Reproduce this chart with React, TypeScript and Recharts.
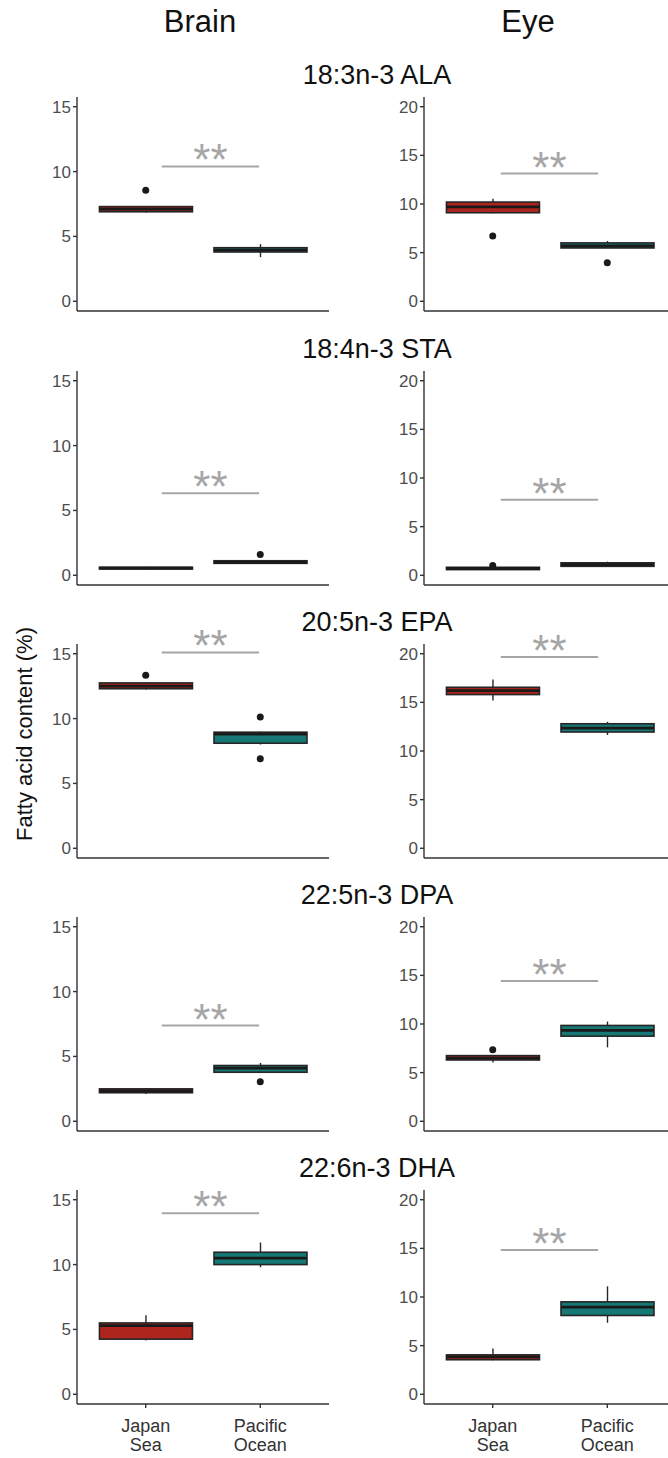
import { ComposedChart, Bar, Scatter, XAxis, YAxis, ReferenceLine } from 'recharts'

const acids = ['18:3n-3 ALA', '18:4n-3 STA', '20:5n-3 EPA', '22:5n-3 DPA', '22:6n-3 DHA']
const groupLines = [['Japan', 'Sea'], ['Pacific', 'Ocean']]
const brainTicks = [0, 5, 10, 15]
const eyeTicks = [0, 5, 10, 15, 20]

// [lower whisker, q1, median, q3, upper whisker] per acid
const brainJapan = [
  [6.85, 6.9, 7.1, 7.3, 7.35],
  [0.45, 0.48, 0.55, 0.62, 0.65],
  [12.25, 12.3, 12.5, 12.75, 12.8],
  [2.1, 2.2, 2.35, 2.5, 2.55],
  [4.15, 4.25, 5.3, 5.5, 6.1],
]
const brainPacific = [
  [3.4, 3.8, 3.95, 4.13, 4.4],
  [0.9, 0.92, 1.0, 1.12, 1.15],
  [8.0, 8.1, 8.8, 8.95, 9.0],
  [3.75, 3.78, 4.1, 4.3, 4.5],
  [9.8, 10.0, 10.5, 10.95, 11.7],
]
const eyeJapan = [
  [9.05, 9.1, 9.7, 10.2, 10.55],
  [0.55, 0.58, 0.7, 0.82, 0.85],
  [15.2, 15.8, 16.2, 16.55, 17.35],
  [6.05, 6.3, 6.5, 6.75, 6.8],
  [3.5, 3.55, 3.85, 4.05, 4.7],
]
const eyePacific = [
  [5.45, 5.48, 5.7, 6.0, 6.2],
  [0.9, 0.92, 1.1, 1.28, 1.4],
  [11.65, 11.95, 12.35, 12.8, 13.0],
  [7.6, 8.75, 9.35, 9.85, 10.25],
  [7.35, 8.1, 8.95, 9.5, 11.1],
]

// outliers: group (1 = Japan Sea, 2 = Pacific Ocean), value
const brainOutliers = [
  [{ x: 1, y: 8.56 }],
  [{ x: 2, y: 1.6 }],
  [{ x: 1, y: 13.35 }, { x: 2, y: 10.13 }, { x: 2, y: 6.9 }],
  [{ x: 2, y: 3.05 }],
  [],
]
const eyeOutliers = [
  [{ x: 1, y: 6.7 }, { x: 2, y: 3.95 }],
  [{ x: 1, y: 1.0 }],
  [],
  [{ x: 1, y: 7.35 }],
  [],
]

// height of the significance bar
const brainSig = [10.4, 6.33, 15.1, 7.38, 13.96]
const eyeSig = [13.13, 7.76, 19.66, 14.43, 14.83]

const FONT = '"Liberation Sans", Arial, Helvetica, sans-serif'
const JAPAN_FILL = '#ae251d'
const PACIFIC_FILL = '#157875'
const PLOT_H = 214
const TOP_PAD = 24
const ROW_STEP = 273.2
const FIRST_TOP = 97.3

function BoxShape(props: any) {
  const { x, y, width, height, payload } = props
  const [lo, q1, med, q3, hi] = payload.stats
  const top = Math.min(y, y + height)
  const bottom = Math.max(y, y + height)
  const px = (v: number) => top + ((hi - v) / (hi - lo)) * (bottom - top)
  const cx = x + width / 2
  return (
    <g>
      <line x1={cx} x2={cx} y1={px(hi)} y2={px(lo)} stroke="#262626" strokeWidth={1.4} />
      <rect
        x={x}
        y={px(q3)}
        width={width}
        height={Math.max(px(q1) - px(q3), 0.5)}
        fill={payload.fill}
        stroke="#262626"
        strokeWidth={1.6}
      />
      <line x1={x} x2={x + width} y1={px(med)} y2={px(med)} stroke="#1a1a1a" strokeWidth={2.8} />
    </g>
  )
}

function GroupTick(props: any) {
  const { x, y, payload } = props
  const lines = groupLines[payload.value - 1]
  if (!lines) return null
  return (
    <text x={x} y={y} textAnchor="middle" fill="#333" fontSize={18} fontFamily={FONT}>
      <tspan x={x} dy={22}>{lines[0]}</tspan>
      <tspan x={x} dy={18.5}>{lines[1]}</tspan>
    </text>
  )
}

function Stars(props: any) {
  const vb = props.viewBox
  if (!vb) return null
  return (
    <text x={vb.x + vb.width / 2} y={vb.y + 9} textAnchor="middle" fill="#a6a6a6" fontSize={44} fontFamily={FONT}>
      **
    </text>
  )
}

type PanelProps = {
  japan: number[]
  pacific: number[]
  outliers: { x: number; y: number }[]
  sig: number
  sigX: [number, number]
  ticks: number[]
  domain: [number, number]
  labels: boolean
}

function Panel({ japan, pacific, outliers, sig, sigX, ticks, domain, labels }: PanelProps) {
  const data = [
    { x: 1, range: [japan[0], japan[4]], stats: japan, fill: JAPAN_FILL },
    { x: 2, range: [pacific[0], pacific[4]], stats: pacific, fill: PACIFIC_FILL },
  ]
  const xh = labels ? 60 : 10
  return (
    <ComposedChart
      width={291}
      height={TOP_PAD + PLOT_H + xh}
      data={data}
      margin={{ top: TOP_PAD, right: 2, left: 0, bottom: 0 }}
    >
      <XAxis
        dataKey="x"
        type="number"
        domain={[0.4, 2.6]}
        ticks={[1, 2]}
        allowDataOverflow
        height={xh}
        tickSize={4}
        stroke="#333"
        strokeWidth={1.4}
        tick={labels ? <GroupTick /> : false}
      />
      <YAxis
        type="number"
        domain={domain}
        ticks={ticks}
        allowDataOverflow
        width={37}
        tickSize={4}
        tickMargin={2}
        stroke="#333"
        strokeWidth={1.4}
        tick={{ fill: '#4d4d4d', fontSize: 17, fontFamily: FONT }}
      />
      <Bar dataKey="range" barSize={93} shape={<BoxShape />} isAnimationActive={false} />
      <Scatter
        data={outliers}
        dataKey="y"
        isAnimationActive={false}
        shape={(p: any) => <circle cx={p.cx} cy={p.cy} r={3.5} fill="#1a1a1a" />}
      />
      <ReferenceLine
        segment={[{ x: sigX[0], y: sig }, { x: sigX[1], y: sig }]}
        stroke="#a6a6a6"
        strokeWidth={2}
        ifOverflow="visible"
        label={(p: any) => <Stars {...p} />}
      />
    </ComposedChart>
  )
}

export default function App() {
  return (
    <div
      style={{
        position: 'absolute',
        left: 0,
        top: 0,
        width: 668,
        height: 1458,
        overflow: 'hidden',
        background: '#fff',
        fontFamily: FONT,
      }}
    >
      <div style={{ position: 'absolute', left: 200, top: 22, transform: 'translate(-50%, -50%)', fontSize: 31, color: '#111' }}>
        Brain
      </div>
      <div style={{ position: 'absolute', left: 528, top: 22, transform: 'translate(-50%, -50%)', fontSize: 31, color: '#111' }}>
        Eye
      </div>
      <div
        style={{
          position: 'absolute',
          left: 25,
          top: 734,
          transform: 'translate(-50%, -50%) rotate(-90deg)',
          fontSize: 22,
          color: '#111',
          whiteSpace: 'nowrap',
        }}
      >
        Fatty acid content (%)
      </div>
      {acids.map((name, i) => {
        const plotTop = FIRST_TOP + ROW_STEP * i
        const last = i === acids.length - 1
        return (
          <div key={name}>
            <div
              style={{
                position: 'absolute',
                left: 377,
                top: plotTop - 22,
                transform: 'translate(-50%, -50%)',
                fontSize: 27,
                color: '#111',
                whiteSpace: 'nowrap',
              }}
            >
              {name}
            </div>
            <div style={{ position: 'absolute', left: 40, top: plotTop - TOP_PAD }}>
              <Panel
                japan={brainJapan[i]}
                pacific={brainPacific[i]}
                outliers={brainOutliers[i]}
                sig={brainSig[i]}
                sigX={[1.14, 1.99]}
                ticks={brainTicks}
                domain={[-0.75, 15.75]}
                labels={last}
              />
            </div>
            <div style={{ position: 'absolute', left: 387, top: plotTop - TOP_PAD }}>
              <Panel
                japan={eyeJapan[i]}
                pacific={eyePacific[i]}
                outliers={eyeOutliers[i]}
                sig={eyeSig[i]}
                sigX={[1.07, 1.92]}
                ticks={eyeTicks}
                domain={[-1, 21]}
                labels={last}
              />
            </div>
          </div>
        )
      })}
    </div>
  )
}
